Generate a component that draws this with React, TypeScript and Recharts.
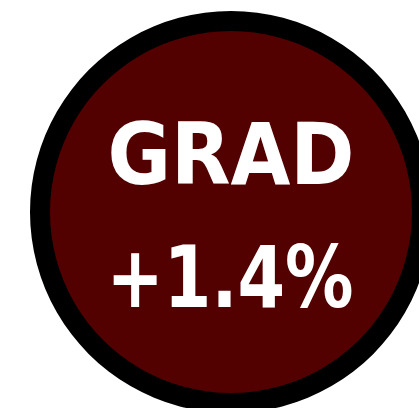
import { PieChart, Pie, Cell, Label } from "recharts";

// Badge data
const labels = ["GRAD"];
const changes = [1.4];
const ringValues = [1];

const CX = 231;
const CY = 212;

const textStyle = {
  fontFamily: "'DejaVu Sans Condensed', 'DejaVu Sans', sans-serif",
  fontStretch: "condensed",
  fontWeight: 700,
  fontSize: 86,
};

export default function App() {
  const data = labels.map((name, i) => ({ name, value: ringValues[i], change: changes[i] }));

  const renderText = () => (
    <g>
      <text x={CX} y={184} textAnchor="middle" fill="#ffffff" style={textStyle}>
        {labels[0]}
      </text>
      <text
        x={CX - 1}
        y={307}
        textAnchor="middle"
        fill="#ffffff"
        textLength={247}
        lengthAdjust="spacingAndGlyphs"
        style={textStyle}
      >
        {`+${changes[0].toFixed(1)}%`}
      </text>
    </g>
  );

  return (
    <div style={{ position: "absolute", left: 0, top: 0, width: 419, height: 408, background: "#fff" }}>
      <PieChart width={419} height={408} margin={{ top: 0, right: 0, bottom: 0, left: 0 }}>
        {/* black outer ring */}
        <Pie
          data={data}
          dataKey="value"
          cx={CX}
          cy={CY}
          innerRadius={180}
          outerRadius={201}
          startAngle={90}
          endAngle={-270}
          stroke="none"
          isAnimationActive={false}
        >
          {data.map((d) => (
            <Cell key={d.name} fill="#000000" />
          ))}
        </Pie>
        {/* dark red disc */}
        <Pie
          data={data}
          dataKey="value"
          cx={CX}
          cy={CY}
          innerRadius={0}
          outerRadius={181}
          startAngle={90}
          endAngle={-270}
          stroke="none"
          isAnimationActive={false}
        >
          {data.map((d) => (
            <Cell key={d.name} fill="#520000" />
          ))}
          <Label position="center" content={renderText} />
        </Pie>
      </PieChart>
    </div>
  );
}
